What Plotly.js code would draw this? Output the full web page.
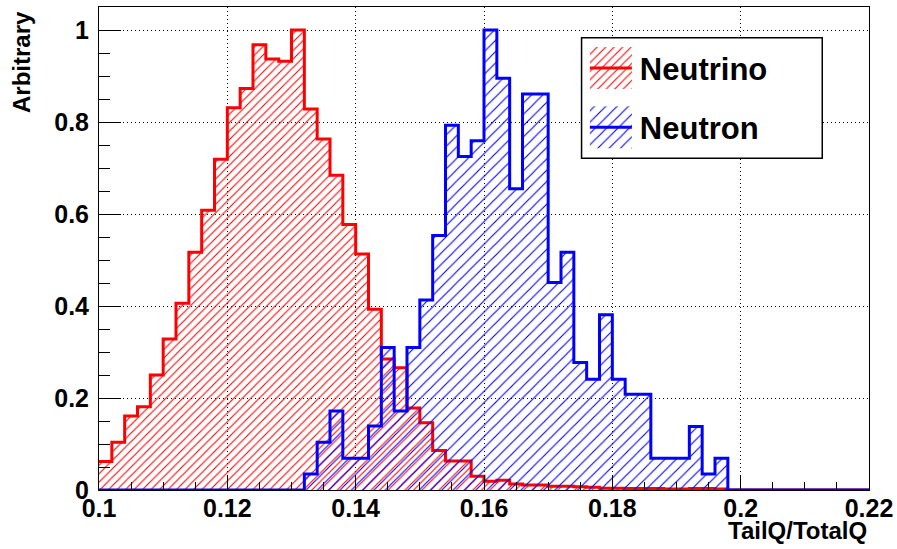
<!DOCTYPE html>
<html>
<head>
<meta charset="utf-8">
<script src="https://cdn.plot.ly/plotly-3.0.1.min.js"></script>
<style>
  html, body { margin: 0; padding: 0; background: #fff; }
  #chart { width: 897px; height: 549px; }
</style>
</head>
<body>
<div id="chart"></div>
<script>
// ---- Data (bin width 0.002 from 0.10 to 0.22) ----
const binStart = 0.100;
const binWidth = 0.002;
const nBins = 60;

const neutrino = [
  0.062, 0.104, 0.161, 0.181, 0.250, 0.328, 0.406, 0.517, 0.608, 0.719,
  0.831, 0.873, 0.968, 0.937, 0.932, 1.000, 0.828, 0.763, 0.684, 0.577,
  0.513, 0.393, 0.285, 0.266, 0.178, 0.146, 0.086, 0.063, 0.063, 0.030,
  0.019, 0.021, 0.013, 0.011, 0.011, 0.008, 0.008, 0.007, 0.006, 0.004,
  0.004, 0.003, 0.003, 0.003, 0.002, 0.002, 0.003, 0.003, 0.002, 0.000,
  0.000, 0.000, 0.000, 0.000, 0.000, 0.000, 0.000, 0.000, 0.000, 0.000
];

const neutron = [
  0.000, 0.000, 0.000, 0.000, 0.000, 0.000, 0.000, 0.000, 0.000, 0.000,
  0.000, 0.000, 0.000, 0.000, 0.000, 0.000, 0.035, 0.104, 0.172, 0.069,
  0.069, 0.139, 0.310, 0.172, 0.310, 0.413, 0.553, 0.793, 0.725, 0.759,
  1.000, 0.895, 0.655, 0.861, 0.861, 0.451, 0.517, 0.277, 0.241, 0.381,
  0.241, 0.208, 0.208, 0.069, 0.069, 0.069, 0.138, 0.035, 0.069, 0.000,
  0.000, 0.000, 0.000, 0.000, 0.000, 0.000, 0.000, 0.000, 0.000, 0.000
];

const seriesNames = ["Neutrino", "Neutron"];
const xTitle = "TailQ/TotalQ";
const yTitle = "Arbitrary";

// bin edges (low edges + final upper edge)
const edges = [];
for (let i = 0; i <= nBins; i++) edges.push(+(binStart + i * binWidth).toFixed(4));

function stepY(vals) { return vals.concat([vals[vals.length - 1]]); }

const FONT = "Liberation Sans, Arial, Helvetica, sans-serif";

const traces = [
  {
    type: "scatter", mode: "lines", name: seriesNames[0], legendgroup: "a",
    x: edges, y: stepY(neutrino),
    line: { shape: "hv", color: "#ff0000", width: 3 },
    fill: "tozeroy", fillcolor: "rgba(0,0,0,0)",
    fillpattern: { shape: "/", size: 6, solidity: 0.18, fgcolor: "#ff0000", bgcolor: "rgba(0,0,0,0)" },
    hoverinfo: "x+y"
  },
  {
    type: "scatter", mode: "lines", name: seriesNames[1], legendgroup: "b",
    x: edges, y: stepY(neutron),
    line: { shape: "hv", color: "#0000ff", width: 3 },
    fill: "tozeroy", fillcolor: "rgba(0,0,0,0)",
    fillpattern: { shape: "/", size: 8, solidity: 0.14, fgcolor: "#0000ff", bgcolor: "rgba(0,0,0,0)" },
    hoverinfo: "x+y"
  }
];

const layout = {
  width: 897, height: 549,
  paper_bgcolor: "#ffffff", plot_bgcolor: "#ffffff",
  margin: { l: 99, r: 28, t: 7, b: 59, pad: 0 },
  font: { family: FONT, size: 25, color: "#000", weight: "bold" },
  showlegend: true,
  legend: {
    x: 0.631, y: 0.929, xanchor: "left", yanchor: "top",
    bgcolor: "rgba(0,0,0,0)", bordercolor: "#000", borderwidth: 0,
    font: { family: FONT, size: 31, color: "#000", weight: "bold" },
    traceorder: "grouped", tracegroupgap: 16, itemwidth: 45
  },
  shapes: [
    {
      type: "rect", xref: "paper", yref: "paper",
      x0: 0.6267, x1: 0.9393, y0: 0.6871, y1: 0.9361,
      line: { color: "#000", width: 1.5 }, fillcolor: "#ffffff", layer: "above"
    }
  ],
  xaxis: {
    range: [0.1, 0.22], dtick: 0.02, tick0: 0.1,
    showline: true, mirror: true, linecolor: "#000", linewidth: 1,
    ticks: "inside", ticklen: 15, tickwidth: 1, tickcolor: "#000",
    minor: { dtick: 0.005, ticks: "inside", ticklen: 8, tickcolor: "#000", showgrid: false },
    showgrid: true, gridcolor: "#000", gridwidth: 1, griddash: "1px,3px",
    zeroline: false,
    tickfont: { family: FONT, size: 25, color: "#000", weight: "bold" },
    ticklabelstandoff: -4
  },
  yaxis: {
    range: [0, 1.05], dtick: 0.2, tick0: 0,
    showline: true, mirror: true, linecolor: "#000", linewidth: 1,
    ticks: "inside", ticklen: 22, tickwidth: 1, tickcolor: "#000",
    minor: { dtick: 0.05, ticks: "inside", ticklen: 11, tickcolor: "#000", showgrid: false },
    showgrid: true, gridcolor: "#000", gridwidth: 1, griddash: "1px,3px",
    zeroline: false,
    tickfont: { family: FONT, size: 25, color: "#000", weight: "bold" },
    ticklabelstandoff: 4
  },
  annotations: [
    {
      text: xTitle, xref: "paper", yref: "paper", x: 1, y: 0,
      xanchor: "right", yanchor: "middle", yshift: -40, showarrow: false,
      font: { family: FONT, size: 24, color: "#000", weight: "bold" }
    },
    {
      text: yTitle, xref: "paper", yref: "paper", x: 0, y: 1,
      xanchor: "center", yanchor: "top", xshift: -78, yshift: -2, textangle: -90, showarrow: false,
      font: { family: FONT, size: 24, color: "#000", weight: "bold" }
    }
  ]
};

Plotly.newPlot("chart", traces, layout, { staticPlot: true, displayModeBar: false }).then(function () {
  // ROOT-style legend entries: enlarge the hatched swatch to a square box with the line through it
  document.querySelectorAll("#chart .legend .traces").forEach(function (g) {
    g.querySelectorAll(".legendfill path").forEach(function (p) {
      p.setAttribute("d", "M5,-21h42v42h-42z");
    });
    g.querySelectorAll(".legendlines path").forEach(function (p) {
      p.setAttribute("d", "M5,0h42");
    });
  });
});
</script>
</body>
</html>
